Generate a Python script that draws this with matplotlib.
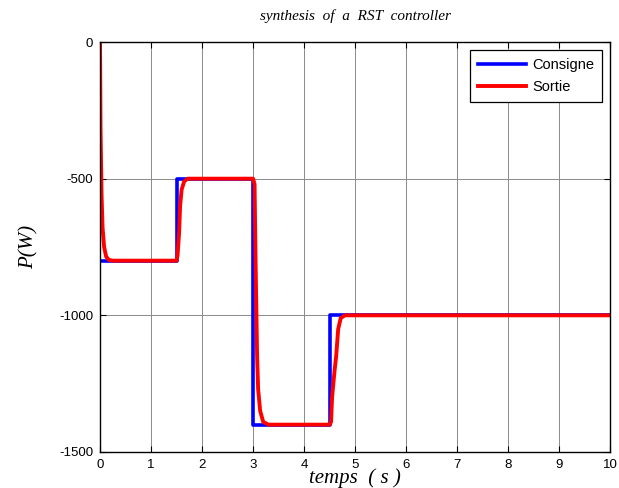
import matplotlib
matplotlib.use("Agg")
import matplotlib.pyplot as plt

# setpoint (Consigne), step values
t_ref = [0, 1.5, 1.5, 3, 3, 4.5, 4.5, 10]
p_ref = [-800, -800, -500, -500, -1400, -1400, -1000, -1000]

t_out = [0, 0.01, 0.03, 0.05, 0.08, 0.12, 0.17, 0.25,
         1.5, 1.52, 1.55, 1.57, 1.6, 1.65, 1.72,
         3.0, 3.03, 3.05, 3.08, 3.1, 3.14, 3.2, 3.3,
         4.5, 4.53, 4.55, 4.6, 4.63, 4.67, 4.72, 4.8, 10]
p_out = [0, -320, -560, -680, -750, -785, -797, -800,
         -800, -780, -700, -600, -540, -510, -500,
         -500, -520, -800, -1150, -1270, -1350, -1390, -1400,
         -1400, -1390, -1300, -1200, -1150, -1050, -1010, -1000, -1000]

xticks = list(range(0, 11))
yticks = [-1500, -1000, -500, 0]

fig = plt.figure(figsize=(6.19, 4.88), dpi=100)
ax = fig.add_axes([0.1616, 0.0738, 0.8239, 0.8401])

ax.plot(t_ref, p_ref, color='#0000ff', lw=2.6, label='Consigne')
ax.plot(t_out, p_out, color='#ff0000', lw=2.8, label='Sortie')

ax.set_xlim(0, 10)
ax.set_ylim(-1500, 0)
ax.set_xticks(xticks)
ax.set_yticks(yticks)
ax.set_xticklabels([str(v) for v in xticks], family='Liberation Sans', fontsize=9.5)
ax.set_yticklabels([str(v) for v in yticks], family='Liberation Sans', fontsize=9.5)
ax.tick_params(direction='in', top=True, right=True, length=4, width=0.8)
ax.tick_params(axis='x', pad=5)
ax.tick_params(axis='y', pad=5)

ax.grid(True, color='#8a8a8a', lw=0.7, ls='-')
for s in ax.spines.values():
    s.set_linewidth(1.0)
    s.set_color('black')

ax.set_title('synthesis  of  a  RST  controller', family='Liberation Serif',
             style='italic', fontsize=11, pad=16)
ax.set_xlabel('temps  ( s )', family='Liberation Serif', style='italic',
              fontsize=15, labelpad=-2)
ax.set_ylabel('P(W)', family='Liberation Serif', style='italic', fontsize=15,
              labelpad=15)

leg = ax.legend(loc='upper right', prop={'family': 'Liberation Sans', 'size': 10.5},
                fancybox=False, edgecolor='black', framealpha=1,
                borderaxespad=0.55, handlelength=3.3, handletextpad=0.4,
                labelspacing=0.55, borderpad=0.55)
leg.get_frame().set_linewidth(0.9)

fig.savefig('out.png', dpi=100)
